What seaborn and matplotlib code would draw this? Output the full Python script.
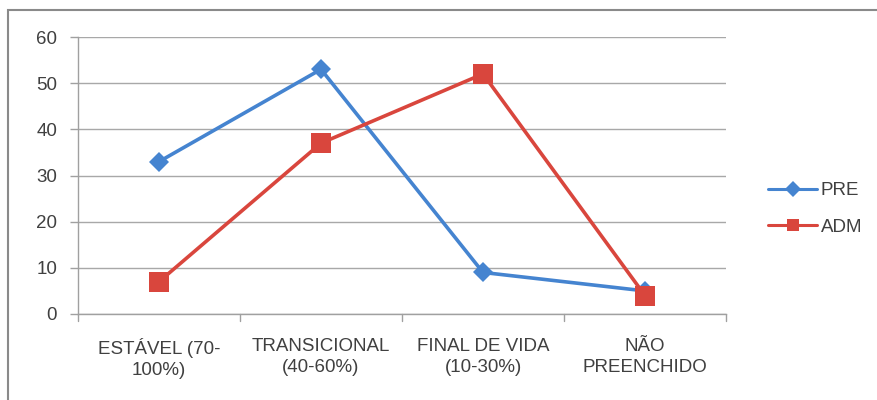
import matplotlib
matplotlib.use("Agg")
import matplotlib.pyplot as plt
from matplotlib.patches import Rectangle
from matplotlib.lines import Line2D
import seaborn as sns
import pandas as pd
import numpy as np

categories = ["ESTÁVEL (70-\n100%)", "TRANSICIONAL\n(40-60%)", "FINAL DE VIDA\n(10-30%)", "NÃO\nPREENCHIDO"]
pre_values = [33, 53, 9, 5]
adm_values = [7, 37, 52, 4]
y_ticks = [0, 10, 20, 30, 40, 50, 60]

sns.set_theme(style="white")
plt.rcParams["font.family"] = ["Liberation Sans", "DejaVu Sans"]

pos = np.arange(len(categories)) + 0.5
df = pd.DataFrame({
    "pos": np.concatenate([pos, pos]),
    "value": pre_values + adm_values,
    "series": ["PRE"] * len(pos) + ["ADM"] * len(pos),
})

fig = plt.figure(figsize=(8.77, 4.0), dpi=100)
ax = fig.add_axes([78/877, 1-314/400, (726-78)/877, (314-37)/400])

colors = {"PRE": "#4584d0", "ADM": "#d9463d"}
markers = {"PRE": "D", "ADM": "s"}
sns.lineplot(data=df, x="pos", y="value", hue="series", style="series", ax=ax,
             palette=colors, markers=markers, dashes=False, linewidth=2.6, zorder=3,
             legend=False)
msize = {"D": 10, "s": 14}
for line in ax.lines:
    m = line.get_marker()
    if m in msize:
        line.set_markersize(msize[m])
        line.set_markeredgewidth(0)

fs = 13.5
ax.set_xlim(0, len(categories))
ax.set_ylim(0, 60)
ax.set_yticks(y_ticks)
ax.set_yticklabels([str(v) for v in y_ticks], fontsize=fs, color="#404040")
ax.set_xticks(pos)
ax.set_xticklabels(categories, fontsize=fs, color="#404040", linespacing=1.35)
ax.tick_params(axis="x", length=0, pad=17)
ax.tick_params(axis="y", length=6, color="#a0a0a0", width=1, left=True, pad=9)
for b in np.arange(len(categories) + 1):
    ax.plot([b, b], [0, -1.5], color="#a0a0a0", lw=1, clip_on=False)
ax.grid(axis="y", color="#a8a8a8", lw=1)
ax.set_axisbelow(True)
for side in ["top", "right"]:
    ax.spines[side].set_visible(False)
for side in ["left", "bottom"]:
    ax.spines[side].set_color("#a0a0a0")
    ax.spines[side].set_linewidth(1)
ax.set_xlabel("")
ax.set_ylabel("")

handles = [Line2D([], [], color=colors[s], marker=markers[s], lw=2.2,
                  markersize=(8 if markers[s] == "D" else 9), markeredgewidth=0)
           for s in ["PRE", "ADM"]]
ax.legend(handles, ["PRE", "ADM"], loc="center left", bbox_to_anchor=(755/877, 1-209/400),
          bbox_transform=fig.transFigure, frameon=False, fontsize=fs, handlelength=2.6,
          handletextpad=0.2, labelspacing=1.05, labelcolor="#404040", borderpad=0.2)

fig.patches.append(Rectangle((8/877, -0.1), 2, 1.075, transform=fig.transFigure,
                             fill=False, edgecolor="#8a8a8a", lw=1.5, figure=fig))

fig.savefig("out.png", dpi=100)
